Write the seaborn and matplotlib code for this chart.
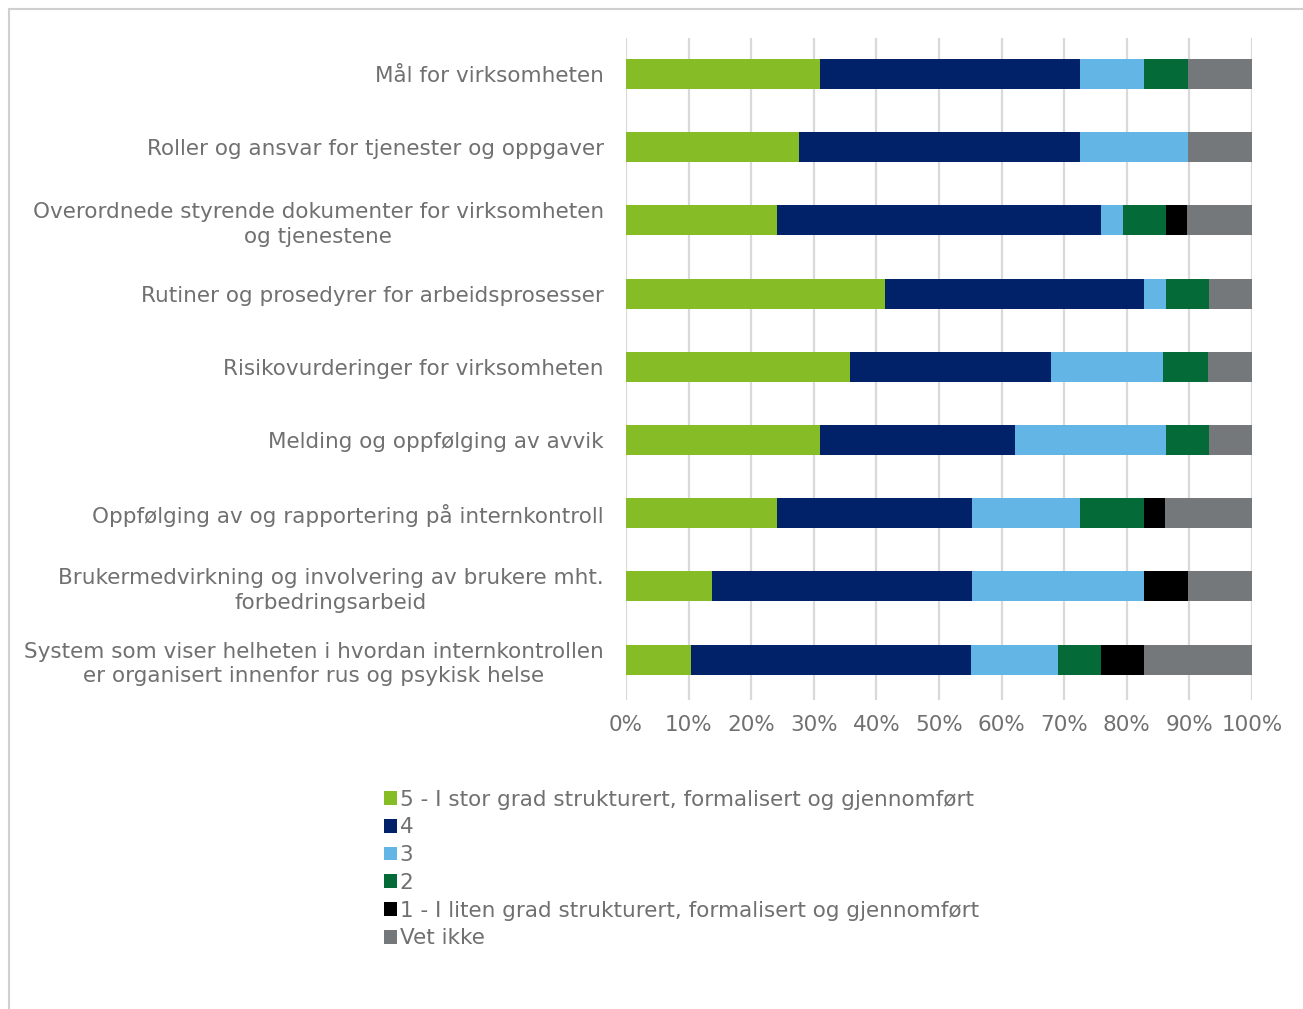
import matplotlib
matplotlib.use("Agg")
import matplotlib.pyplot as plt
from matplotlib.patches import Patch, Rectangle
import seaborn as sns
import pandas as pd
import numpy as np

categories = [
    "Mål for virksomheten",
    "Roller og ansvar for tjenester og oppgaver",
    "Overordnede styrende dokumenter for virksomheten\nog tjenestene",
    "Rutiner og prosedyrer for arbeidsprosesser",
    "Risikovurderinger for virksomheten",
    "Melding og oppfølging av avvik",
    "Oppfølging av og rapportering på internkontroll",
    "Brukermedvirkning og involvering av brukere mht.\nforbedringsarbeid",
    "System som viser helheten i hvordan internkontrollen\ner organisert innenfor rus og psykisk helse",
]

series_names = [
    "5 - I stor grad strukturert, formalisert og gjennomført",
    "4",
    "3",
    "2",
    "1 - I liten grad strukturert, formalisert og gjennomført",
    "Vet ikke",
]

s5 = [31.0, 27.6, 24.1, 41.4, 35.7, 31.0, 24.1, 13.8, 10.3]
s4 = [41.4, 44.8, 51.7, 41.4, 32.1, 31.0, 31.0, 41.4, 44.8]
s3 = [10.3, 17.2, 3.4, 3.4, 17.9, 24.1, 17.2, 27.6, 13.8]
s2 = [6.9, 0.0, 6.9, 6.9, 7.1, 6.9, 10.3, 0.0, 6.9]
s1 = [0.0, 0.0, 3.4, 0.0, 0.0, 0.0, 3.4, 6.9, 6.9]
vet_ikke = [10.3, 10.3, 10.3, 6.9, 7.1, 6.9, 13.8, 10.3, 17.2]

colors = ["#86BC25", "#012169", "#62B5E5", "#046A38", "#000000", "#75787B"]
text_color = "#707070"

series = [s5, s4, s3, s2, s1, vet_ikke]
data = np.array(series)
# normalise each row to exactly 100 %
data = data / data.sum(axis=0) * 100
cum = np.cumsum(data, axis=0)

sns.set_theme(style="white")
plt.rcParams["font.family"] = ["DejaVu Sans"]

fig = plt.figure(figsize=(13.03, 10.09), dpi=100)
ax = fig.add_axes([0.4804, 0.3063, 0.9609 - 0.4804, 0.9623 - 0.3063])

# stacked bars: draw cumulative totals from the outermost segment inwards
for i in range(len(series) - 1, -1, -1):
    df = pd.DataFrame({"cat": categories, "val": cum[i]})
    sns.barplot(data=df, x="val", y="cat", orient="h", color=colors[i],
                width=0.41, saturation=1, ax=ax, zorder=3,
                edgecolor="none", linewidth=0)

ax.set_xlim(0, 100)
ax.set_ylim(8.55, -0.49)
ax.set_xticks(np.arange(0, 101, 10))
ax.set_xticklabels([f"{v}%" for v in range(0, 101, 10)])
ax.xaxis.grid(True, color="#d9d9d9", linewidth=1.6, zorder=0)
ax.yaxis.grid(False)
for sp in ax.spines.values():
    sp.set_visible(False)
ax.set_xlabel("")
ax.set_ylabel("")
ax.tick_params(axis="both", length=0, labelsize=15.5, colors=text_color)
ax.tick_params(axis="x", pad=11)
ax.tick_params(axis="y", pad=16)
for lbl in ax.get_yticklabels():
    lbl.set_multialignment("center")
    lbl.set_linespacing(1.3)

handles = [Patch(facecolor=c, edgecolor="none") for c in colors]
leg = fig.legend(handles, series_names, loc="upper left",
                 bbox_to_anchor=(375 / 1303, 1 - 781 / 1009),
                 frameon=False, fontsize=15.5, labelcolor=text_color,
                 handlelength=0.6, handleheight=0.6, handletextpad=0.15,
                 labelspacing=0.36, borderaxespad=0)

# outer frame around the chart area
fig.patches.append(Rectangle((9 / 1303, -0.05), 1.2, 1 - 9 / 1009 + 0.05,
                             transform=fig.transFigure, fill=False,
                             edgecolor="#d0d0d0", linewidth=1.5))

fig.savefig("out.png", dpi=100, facecolor="white")
